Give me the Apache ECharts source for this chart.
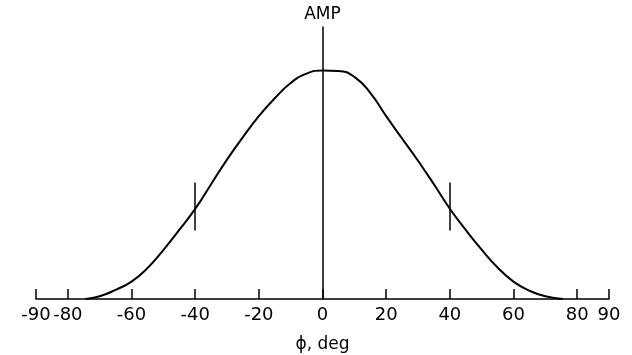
<!DOCTYPE html>
<html>
<head>
<meta charset="utf-8">
<script src="https://cdn.jsdelivr.net/npm/echarts@6/dist/echarts.min.js"></script>
<style>
  html, body { margin: 0; padding: 0; background: #fff; }
  #chart { width: 632px; height: 355px; }
</style>
</head>
<body>
<div id="chart"></div>
<script>
// phi (deg) vs relative amplitude
const phi = [-74.5, -70, -65, -60, -55, -50, -45, -40, -35, -30, -25, -20, -15, -10, -5, 0, 5, 10, 15, 20, 25, 30, 35, 40, 45, 50, 55, 60, 65, 70, 75.5];
const amp = [0, 0.012, 0.04, 0.076, 0.135, 0.214, 0.302, 0.394, 0.502, 0.61, 0.708, 0.80, 0.878, 0.945, 0.986, 1.0, 0.998, 0.972, 0.902, 0.80, 0.702, 0.605, 0.502, 0.395, 0.302, 0.216, 0.138, 0.076, 0.036, 0.012, 0];

const tickValues = [-90, -80, -60, -40, -20, 0, 20, 40, 60, 80, 90];

// short vertical markers on the curve at +/-40 deg
const markerX = [-40, 40];
const markerLow = 0.30;
const markerHigh = 0.51;

const chart = echarts.init(document.getElementById('chart'));

const curveData = phi.map((p, i) => [p, amp[i]]);

const option = {
  animation: false,
  backgroundColor: '#fff',
  grid: { left: 36, right: 23, top: 27, bottom: 56, outerBoundsMode: 'none' },
  xAxis: {
    type: 'value',
    min: -90,
    max: 90,
    interval: 10,
    name: 'ϕ, deg',
    nameLocation: 'middle',
    nameGap: 37,
    nameTextStyle: { color: '#000', fontSize: 17, fontFamily: 'DejaVu Sans' },
    axisLine: { onZero: false, lineStyle: { color: '#000', width: 1.5 } },
    axisTick: {
      show: true,
      inside: true,
      length: 10,
      customValues: tickValues,
      lineStyle: { color: '#000', width: 1.5 }
    },
    axisLabel: {
      customValues: tickValues,
      color: '#000',
      fontSize: 18,
      fontFamily: 'DejaVu Sans',
      margin: 7
    },
    splitLine: { show: false }
  },
  yAxis: {
    type: 'value',
    min: 0,
    max: 1.19,
    name: 'AMP',
    nameLocation: 'end',
    nameGap: 4,
    nameTextStyle: { color: '#000', fontSize: 17, fontFamily: 'DejaVu Sans', align: 'center' },
    axisLine: { show: true, onZero: true, lineStyle: { color: '#000', width: 1.5 } },
    axisTick: { show: false },
    axisLabel: { show: false },
    splitLine: { show: false }
  },
  series: [
    {
      type: 'line',
      data: curveData,
      smooth: 0.5,
      symbol: 'none',
      lineStyle: { color: '#000', width: 2 },
      markLine: {
        silent: true,
        symbol: ['none', 'none'],
        label: { show: false },
        lineStyle: { color: '#000', width: 1.5, type: 'solid' },
        data: markerX.map(x => [
          { coord: [x, markerLow] },
          { coord: [x, markerHigh] }
        ])
      }
    }
  ]
};

chart.setOption(option);
</script>
</body>
</html>
